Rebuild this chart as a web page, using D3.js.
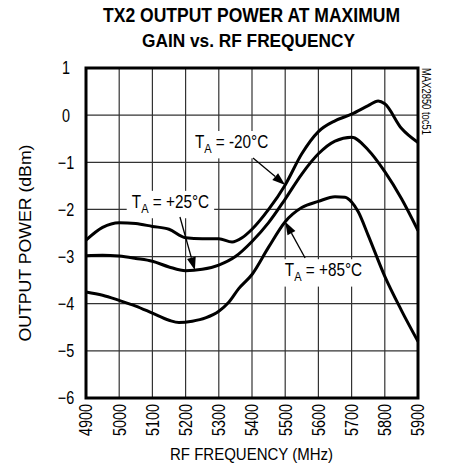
<!DOCTYPE html>
<html>
<head>
<meta charset="utf-8">
<script src="https://cdn.jsdelivr.net/npm/d3@7"></script>
<style>
  html, body { margin: 0; padding: 0; background: #fff; }
  svg { display: block; }
  text { font-family: "Liberation Sans", Arial, sans-serif; fill: #000; }
</style>
</head>
<body>
<svg id="chart" width="463" height="464"></svg>
<script>
// Axis ticks
const freqTicks = [4900, 5000, 5100, 5200, 5300, 5400, 5500, 5600, 5700, 5800, 5900];
const powerTicks = [1, 0, -1, -2, -3, -4, -5, -6];

// TA = -20°C
const freqCold = [4900, 4950, 5000, 5050, 5100, 5150, 5200, 5250, 5300, 5340, 5370, 5400, 5450, 5500, 5550, 5600, 5650, 5700, 5750, 5780, 5800, 5850, 5900];
const powerCold = [-2.65, -2.38, -2.28, -2.30, -2.36, -2.42, -2.60, -2.62, -2.62, -2.69, -2.60, -2.42, -2.00, -1.48, -0.82, -0.35, -0.12, 0.02, 0.20, 0.30, 0.24, -0.28, -0.58];

// TA = +25°C
const freqRoom = [4900, 4950, 5000, 5050, 5100, 5150, 5200, 5250, 5300, 5350, 5400, 5450, 5500, 5550, 5600, 5650, 5700, 5750, 5800, 5850, 5900];
const powerRoom = [-2.98, -2.97, -2.99, -3.04, -3.10, -3.22, -3.30, -3.27, -3.18, -3.00, -2.68, -2.28, -1.78, -1.25, -0.82, -0.55, -0.47, -0.74, -1.20, -1.77, -2.45];

// TA = +85°C
const freqHot = [4900, 4950, 5000, 5050, 5100, 5150, 5180, 5220, 5260, 5300, 5330, 5360, 5400, 5450, 5500, 5550, 5600, 5650, 5680, 5700, 5720, 5750, 5800, 5850, 5900];
const powerHot = [-3.75, -3.82, -3.93, -4.05, -4.20, -4.35, -4.40, -4.37, -4.30, -4.16, -3.97, -3.68, -3.38, -2.80, -2.26, -1.96, -1.83, -1.73, -1.74, -1.84, -2.05, -2.55, -3.42, -4.14, -4.80];

// Callouts: label anchor and arrow (tail -> head) in data units
const callouts = [
  { sub: "A", rest: " = -20°C", labelF: 5228, labelP: -0.70, tailF: 5403, tailP: -0.91, headF: 5500, headP: -1.48 },
  { sub: "A", rest: " = +25°C", labelF: 5038, labelP: -1.97, tailF: 5183, tailP: -2.16, headF: 5228, headP: -3.29 },
  { sub: "A", rest: " = +85°C", labelF: 5499, labelP: -3.42, tailF: 5560, tailP: -3.03, headF: 5500, headP: -2.26 }
];

const svg = d3.select("#chart");
const plot = { left: 86, right: 418, top: 68, bottom: 398 };
const narrow = 0.8; // horizontal squeeze for the condensed lettering

const x = d3.scaleLinear().domain([4900, 5900]).range([plot.left, plot.right]);
const y = d3.scaleLinear().domain([-6, 1]).range([plot.bottom, plot.top]);

// Title
svg.append("text").attr("x", 251.5).attr("y", 22).attr("text-anchor", "middle")
  .attr("textLength", 297).attr("lengthAdjust", "spacingAndGlyphs")
  .style("font-weight", "bold").style("font-size", "20px").text("TX2 OUTPUT POWER AT MAXIMUM");
svg.append("text").attr("x", 248.5).attr("y", 47).attr("text-anchor", "middle")
  .attr("textLength", 213).attr("lengthAdjust", "spacingAndGlyphs")
  .style("font-weight", "bold").style("font-size", "19px").text("GAIN vs. RF FREQUENCY");

// Grid
const grid = svg.append("g").attr("stroke", "#333").attr("stroke-width", 1.2);
grid.selectAll("line.v").data(freqTicks.slice(1, -1)).join("line")
  .attr("class", "v").attr("x1", d => x(d)).attr("x2", d => x(d))
  .attr("y1", plot.top).attr("y2", plot.bottom);
grid.selectAll("line.h").data(powerTicks.slice(1, -1)).join("line")
  .attr("class", "h").attr("y1", d => y(d)).attr("y2", d => y(d))
  .attr("x1", plot.left).attr("x2", plot.right);

// Curves
const line = d3.line().x(d => x(d[0])).y(d => y(d[1])).curve(d3.curveMonotoneX);
const series = [
  d3.zip(freqCold, powerCold),
  d3.zip(freqRoom, powerRoom),
  d3.zip(freqHot, powerHot)
];
svg.append("g").selectAll("path").data(series).join("path")
  .attr("d", line).attr("fill", "none").attr("stroke", "#000")
  .attr("stroke-width", 3).attr("stroke-linejoin", "round");

// Frame
svg.append("rect").attr("x", plot.left).attr("y", plot.top)
  .attr("width", plot.right - plot.left).attr("height", plot.bottom - plot.top)
  .attr("fill", "none").attr("stroke", "#000").attr("stroke-width", 3);

// Y tick labels
svg.append("g").selectAll("text").data(powerTicks).join("text")
  .attr("transform", d => `translate(66,${y(d)}) scale(${narrow},1)`)
  .attr("dy", "0.36em").attr("text-anchor", "middle").style("font-size", "18px")
  .text(d => d3.format("d")(d));

// X tick labels (rotated)
svg.append("g").selectAll("text").data(freqTicks).join("text")
  .attr("transform", d => `translate(${x(d)},404) rotate(-90) scale(${narrow},1)`)
  .attr("dy", "0.36em").attr("text-anchor", "end").style("font-size", "18px")
  .text(d => d);

// Axis titles
svg.append("text").attr("x", 251.5).attr("y", 460).attr("text-anchor", "middle")
  .attr("textLength", 163).attr("lengthAdjust", "spacingAndGlyphs")
  .style("font-size", "17px").text("RF FREQUENCY (MHz)");
svg.append("text").attr("transform", "translate(31,243) rotate(-90)")
  .attr("text-anchor", "middle").attr("textLength", 197).attr("lengthAdjust", "spacingAndGlyphs")
  .style("font-size", "17px").text("OUTPUT POWER (dBm)");

// Side tag
svg.append("text").attr("transform", "translate(422,68) rotate(90)")
  .attr("textLength", 67).attr("lengthAdjust", "spacingAndGlyphs")
  .style("font-size", "12px").text("MAX2850 toc51");

// Callout labels with white backing and arrows
const notes = svg.append("g");
callouts.forEach(c => {
  const g = notes.append("g");
  const lg = g.append("g").attr("transform", `translate(${x(c.labelF)},${y(c.labelP)}) scale(0.85,1)`);
  const t = lg.append("text").style("font-size", "18px");
  t.append("tspan").text("T");
  t.append("tspan").attr("dy", 5).style("font-size", "13px").text(c.sub);
  t.append("tspan").attr("dy", -5).text(c.rest);
  const bb = t.node().getBBox();
  lg.insert("rect", "text").attr("x", bb.x - 6).attr("y", bb.y - 1)
    .attr("width", bb.width + 12).attr("height", bb.height + 3).attr("fill", "#fff");

  const x0 = x(c.tailF), y0 = y(c.tailP), x1 = x(c.headF), y1 = y(c.headP);
  const ang = Math.atan2(y1 - y0, x1 - x0);
  const len = 13, half = 4.5;
  const bx = x1 - len * Math.cos(ang), by = y1 - len * Math.sin(ang);
  g.append("line").attr("x1", x0).attr("y1", y0).attr("x2", bx).attr("y2", by)
    .attr("stroke", "#000").attr("stroke-width", 1.3);
  g.append("path")
    .attr("d", `M${x1},${y1}L${bx - half * Math.sin(ang)},${by + half * Math.cos(ang)}L${bx + half * Math.sin(ang)},${by - half * Math.cos(ang)}Z`)
    .attr("fill", "#000");
});
</script>
</body>
</html>
